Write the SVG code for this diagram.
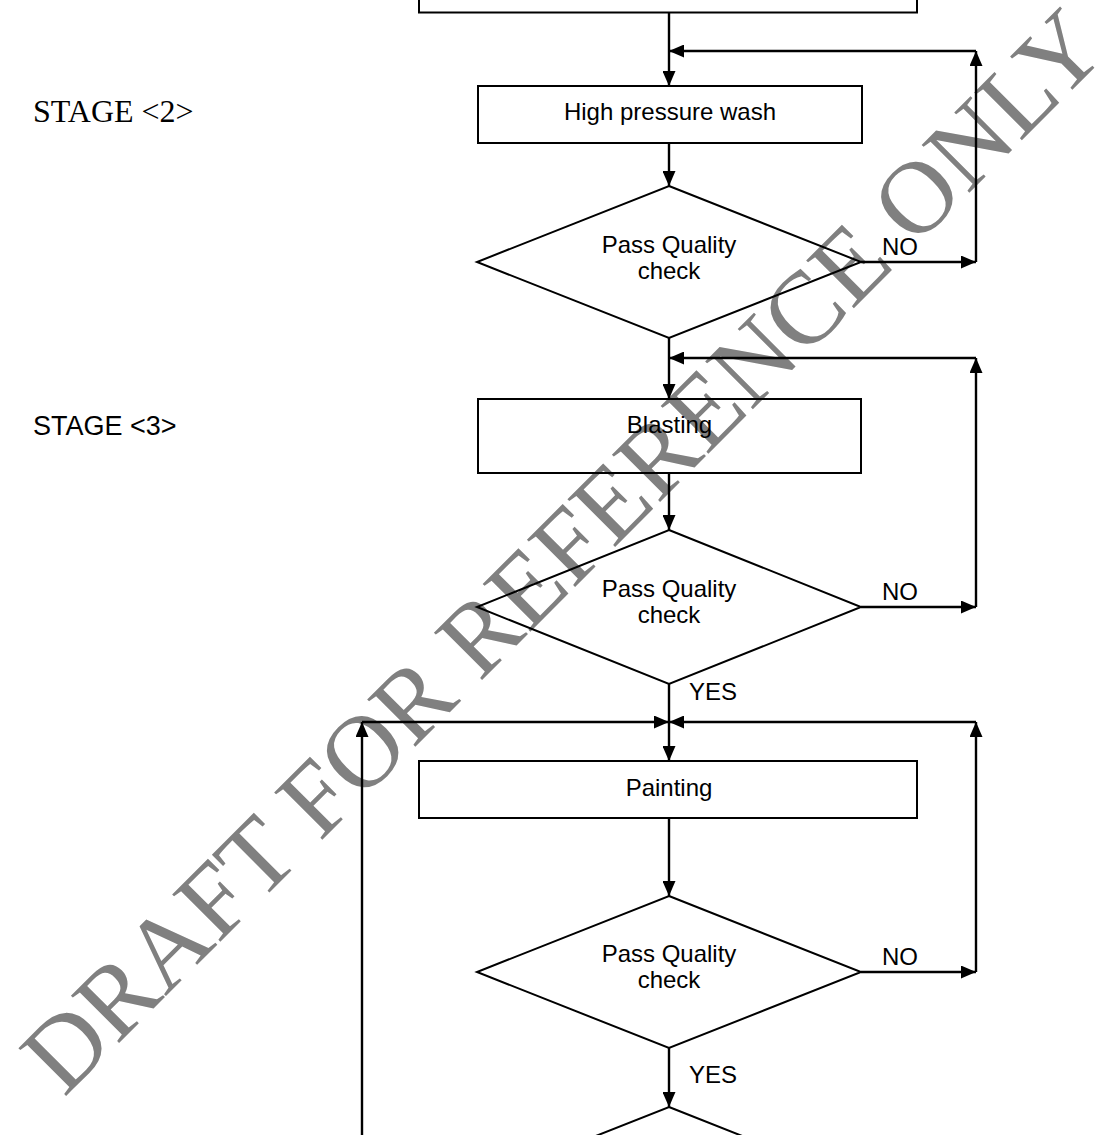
<svg xmlns="http://www.w3.org/2000/svg" width="1119" height="1135" viewBox="0 0 1119 1135">
<defs>
<marker id="ah" markerWidth="15" markerHeight="13" refX="15" refY="6.5" orient="auto" markerUnits="userSpaceOnUse"><path d="M0,0 L15,6.5 L0,13 Z" fill="#000"/></marker>
<style>
.box{fill:none;stroke:#000;stroke-width:2}
.con{fill:none;stroke:#000;stroke-width:2.4;marker-end:url(#ah)}
.t{font-family:"Liberation Sans",Arial,sans-serif;font-size:24px;fill:#000}
.c{text-anchor:middle}
.wm{font-family:"Liberation Serif","Times New Roman",serif;font-size:103px;fill:#808080}
</style>
</defs>
<rect width="1119" height="1135" fill="#fff"/>
<text class="wm" x="64" y="1098" transform="rotate(-45 64 1098)">DRAFT FOR REFERENCE ONLY</text>
<g id="start"><rect class="box" x="419" y="-60" width="498" height="72.5"/></g>
<g id="stage2"><text x="33" y="122" style="font-family:'Liberation Serif','Times New Roman',serif;font-size:32px">STAGE &lt;2&gt;</text></g>
<g id="wash"><rect class="box" x="478" y="86" width="384" height="57"/><text class="t c" x="670" y="120">High pressure wash</text></g>
<g id="check1"><polygon class="box" points="669,186 861,262 669,338 477,262"/><text class="t c" x="669" y="253">Pass Quality</text><text class="t c" x="669" y="279">check</text></g>
<g id="stage3"><text class="t" x="33" y="435" style="font-size:27px">STAGE &lt;3&gt;</text></g>
<g id="blast"><rect class="box" x="478" y="399" width="383" height="74"/><text class="t c" x="669.5" y="433">Blasting</text></g>
<g id="check2"><polygon class="box" points="669,530 861,607 669,684 477,607"/><text class="t c" x="669" y="597">Pass Quality</text><text class="t c" x="669" y="623">check</text></g>
<g id="paint"><rect class="box" x="419" y="761" width="498" height="57"/><text class="t c" x="669" y="796">Painting</text></g>
<g id="check3"><polygon class="box" points="669,896 861,972 669,1048 477,972"/><text class="t c" x="669" y="962">Pass Quality</text><text class="t c" x="669" y="988">check</text></g>
<g id="check4"><polygon class="box" points="669,1107 861,1183 669,1259 477,1183"/></g>
<g id="labels">
<text class="t" x="882" y="255">NO</text>
<text class="t" x="882" y="600">NO</text>
<text class="t" x="882" y="965">NO</text>
<text class="t" x="689" y="700">YES</text>
<text class="t" x="689" y="1083">YES</text>
</g>
<g id="connectors">
<path class="con" d="M669,12.5 V86"/>
<path class="con" d="M861,262 H976"/>
<path class="con" d="M976,262 V51"/>
<path class="con" d="M976,51 H669"/>
<path class="con" d="M669,143 V186"/>
<path class="con" d="M669,338 V399"/>
<path class="con" d="M976,358 H669"/>
<path class="con" d="M669,473 V530"/>
<path class="con" d="M861,607 H976"/>
<path class="con" d="M976,607 V358"/>
<path class="con" d="M669,684 V761"/>
<path class="con" d="M362,1135 V722"/>
<path class="con" d="M362,722 H669"/>
<path class="con" d="M976,722 H669"/>
<path class="con" d="M669,818 V896"/>
<path class="con" d="M861,972 H976"/>
<path class="con" d="M976,972 V722"/>
<path class="con" d="M669,1048 V1107"/>
</g>
</svg>
